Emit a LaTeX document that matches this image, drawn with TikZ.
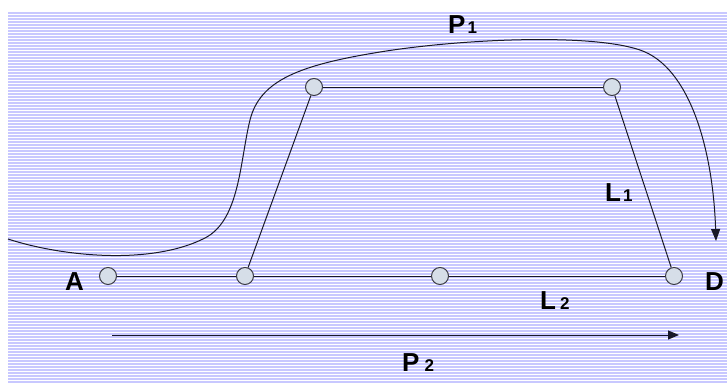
\documentclass[tikz,border=0pt]{standalone}
\usepackage{fontspec}
\setmainfont{Liberation Sans}
\usetikzlibrary{arrows.meta}
\definecolor{stripe}{RGB}{200,200,255}
\definecolor{dotfill}{RGB}{214,222,232}
\definecolor{dotline}{RGB}{60,60,70}
\definecolor{ink}{RGB}{25,25,40}
\tikzset{
  dot/.style={circle,draw=dotline,fill=dotfill,line width=1pt,minimum size=17pt,inner sep=0pt},
  link/.style={draw=ink,line width=1pt},
  lbl/.style={anchor=base west,inner sep=0pt,font=\fontsize{26}{26}\bfseries\selectfont,text=black},
}
\newcommand{\subdig}[1]{{\fontsize{17}{17}\selectfont #1}}
\begin{document}
\begin{tikzpicture}[x=1pt,y=-1pt]
\useasboundingbox (0,0) rectangle (727,383);
\fill[white] (0,0) rectangle (727,383);
\foreach \k in {0,...,123} {
  \fill[stripe] (8,{12+3*\k}) rectangle (727,{13.6+3*\k});
}
% nodes
\node[dot] (a) at (108,276) {};
\node[dot] (b) at (245,276) {};
\node[dot] (c) at (440,276) {};
\node[dot] (d) at (674,276) {};
\node[dot] (e) at (314,87) {};
\node[dot] (f) at (612,87) {};
% links
\draw[link] (a) -- (b);
\draw[link] (b) -- (c);
\draw[link] (c) -- (d);
\draw[link] (b) -- (e);
\draw[link] (e) -- (f);
\draw[link] (f) -- (d);
% P1 curve
\coordinate (p1s) at (8,239);
\coordinate (p1e) at (716,241);
\draw[ink,line width=1pt,-{Triangle[length=12pt,width=9pt]}] (p1s)
  .. controls (60,256) and (150,266) .. (205,238)
  .. controls (240,220) and (240,160) .. (250,120)
  .. controls (260,80) and (300,65) .. (380,52)
  .. controls (460,39) and (590,33) .. (640,50)
  .. controls (690,67) and (713,150) .. (p1e);
% P2 arrow
\coordinate (p2s) at (112,335);
\coordinate (p2e) at (679,335);
\draw[ink,line width=1pt,-{Triangle[length=11pt,width=9pt]}] (p2s) -- (p2e);
% labels
\node[lbl] (la) at (65,290) {A};
\node[lbl] (ld) at (705,290) {D};
\node[lbl] (lp1) at (448,33) {P\hspace{2pt}\subdig{1}};
\node[lbl] (ll1) at (605,201) {L\hspace{2pt}\subdig{1}};
\node[lbl] (ll2) at (540,309) {L\hspace{4pt}\subdig{2}};
\node[lbl] (lp2) at (402,371) {P\hspace{5pt}\subdig{2}};
\end{tikzpicture}
\end{document}
